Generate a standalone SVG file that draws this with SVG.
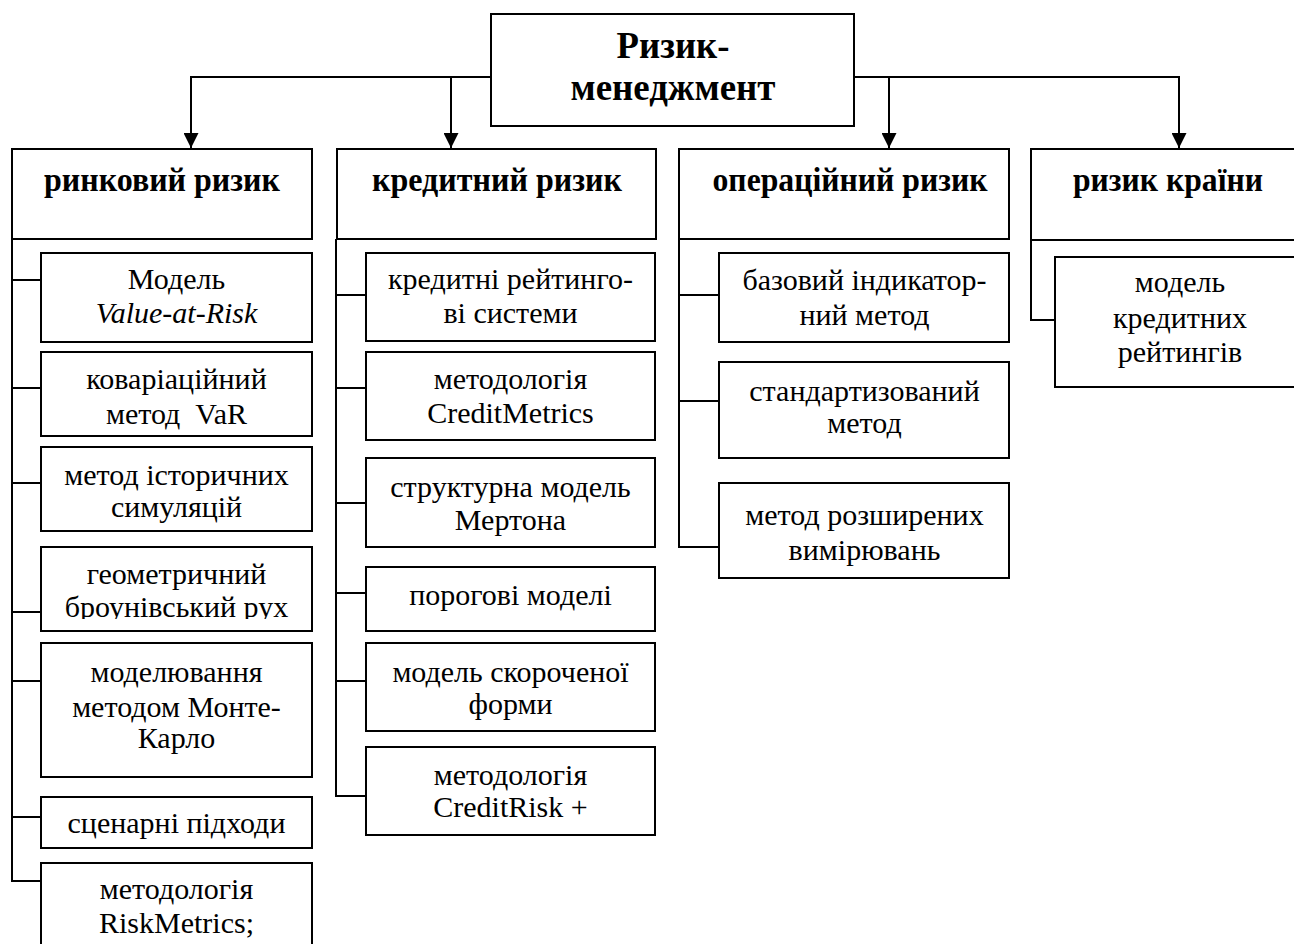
<svg xmlns="http://www.w3.org/2000/svg" width="1294" height="944" viewBox="0 0 1294 944">
<style>
.box{fill:#fff;stroke:#000;stroke-width:2}
.ln{fill:none;stroke:#000;stroke-width:2}
.t{font-family:"Liberation Serif","Times New Roman",serif;font-size:30px;text-anchor:middle;fill:#000}
.h{font-weight:bold;font-size:34px}
.r{font-weight:bold;font-size:37px}
.i{font-style:italic}
</style>
<defs>
<marker id="arr" viewBox="0 0 15 15" refX="15" refY="7.5" markerWidth="15" markerHeight="15" markerUnits="userSpaceOnUse" orient="auto">
<path d="M0,0 L15,7.5 L0,15 z" fill="#000"/>
</marker>
<clipPath id="clipG"><rect x="41" y="547" width="271" height="72"/></clipPath>
</defs>
<rect width="1294" height="944" fill="#fff"/>

<g id="connectors">
<path class="ln" d="M491,77 H191 V148" marker-end="url(#arr)"/>
<path class="ln" d="M451,77 V148" marker-end="url(#arr)"/>
<path class="ln" d="M854,77 H1179 V148" marker-end="url(#arr)"/>
<path class="ln" d="M889,77 V148" marker-end="url(#arr)"/>
<path class="ln" d="M12,239 V881 H41 M12,280 H41 M12,388 H41 M12,483 H41 M12,612 H41 M12,681 H41 M12,817 H41"/>
<path class="ln" d="M336,239 V796 H366 M336,295 H366 M336,388 H366 M336,503 H366 M336,593 H366 M336,681 H366"/>
<path class="ln" d="M679,239 V547 H719 M679,295 H719 M679,401 H719"/>
<path class="ln" d="M1031,240 V320 H1055"/>
</g>

<g id="root">
<rect class="box" x="491" y="14" width="363" height="112"/>
<text class="t r" x="673" y="58" textLength="113" lengthAdjust="spacingAndGlyphs">Ризик-</text>
<text class="t r" x="673" y="100" textLength="205" lengthAdjust="spacingAndGlyphs">менеджмент</text>
</g>

<g id="market">
<rect class="box" x="12" y="149" width="300" height="90"/>
<text class="t h" x="162" y="190.5" textLength="236" lengthAdjust="spacingAndGlyphs">ринковий ризик</text>
</g>
<g id="credit">
<rect class="box" x="337" y="149" width="319" height="90"/>
<text class="t h" x="497" y="190.5" textLength="250" lengthAdjust="spacingAndGlyphs">кредитний ризик</text>
</g>
<g id="operational">
<rect class="box" x="679" y="149" width="330" height="90"/>
<text class="t h" x="850" y="190.5" textLength="275" lengthAdjust="spacingAndGlyphs">операційний ризик</text>
</g>
<g id="country">
<rect class="box" x="1031" y="149" width="275" height="91"/>
<text class="t h" x="1168" y="191" textLength="190" lengthAdjust="spacingAndGlyphs">ризик країни</text>
</g>

<g id="m1">
<rect class="box" x="41" y="253" width="271" height="89"/>
<text class="t" x="176.5" y="289">Модель</text>
<text class="t i" x="176.5" y="323">Value-at-Risk</text>
</g>
<g id="m2">
<rect class="box" x="41" y="352" width="271" height="84"/>
<text class="t" x="176.5" y="389">коваріаційний</text>
<text class="t" x="176.5" y="424" xml:space="preserve">метод  VaR</text>
</g>
<g id="m3">
<rect class="box" x="41" y="447" width="271" height="84"/>
<text class="t" x="176.5" y="485">метод історичних</text>
<text class="t" x="176.5" y="517">симуляцій</text>
</g>
<g id="m4">
<rect class="box" x="41" y="547" width="271" height="84"/>
<g clip-path="url(#clipG)">
<text class="t" x="176.5" y="584">геометричний</text>
<text class="t" x="176.5" y="617">броунівський рух</text>
</g>
</g>
<g id="m5">
<rect class="box" x="41" y="643" width="271" height="134"/>
<text class="t" x="176.5" y="682">моделювання</text>
<text class="t" x="176.5" y="717">методом Монте-</text>
<text class="t" x="176.5" y="748">Карло</text>
</g>
<g id="m6">
<rect class="box" x="41" y="797" width="271" height="51"/>
<text class="t" x="176.5" y="833">сценарні підходи</text>
</g>
<g id="m7">
<rect class="box" x="41" y="863" width="271" height="100"/>
<text class="t" x="176.5" y="899">методологія</text>
<text class="t" x="176.5" y="933">RiskMetrics;</text>
</g>

<g id="c1">
<rect class="box" x="366" y="253" width="289" height="88"/>
<text class="t" x="510.5" y="289">кредитні рейтинго-</text>
<text class="t" x="510.5" y="323">ві системи</text>
</g>
<g id="c2">
<rect class="box" x="366" y="352" width="289" height="88"/>
<text class="t" x="510.5" y="389">методологія</text>
<text class="t" x="510.5" y="423">CreditMetrics</text>
</g>
<g id="c3">
<rect class="box" x="366" y="458" width="289" height="89"/>
<text class="t" x="510.5" y="497">структурна модель</text>
<text class="t" x="510.5" y="530">Мертона</text>
</g>
<g id="c4">
<rect class="box" x="366" y="567" width="289" height="64"/>
<text class="t" x="510.5" y="605">порогові моделі</text>
</g>
<g id="c5">
<rect class="box" x="366" y="643" width="289" height="88"/>
<text class="t" x="510.5" y="682">модель скороченої</text>
<text class="t" x="510.5" y="714">форми</text>
</g>
<g id="c6">
<rect class="box" x="366" y="747" width="289" height="88"/>
<text class="t" x="510.5" y="785">методологія</text>
<text class="t" x="510.5" y="817">CreditRisk +</text>
</g>

<g id="o1">
<rect class="box" x="719" y="253" width="290" height="89"/>
<text class="t" x="864.5" y="290">базовий індикатор-</text>
<text class="t" x="864.5" y="325">ний метод</text>
</g>
<g id="o2">
<rect class="box" x="719" y="362" width="290" height="96"/>
<text class="t" x="864.5" y="401">стандартизований</text>
<text class="t" x="864.5" y="433">метод</text>
</g>
<g id="o3">
<rect class="box" x="719" y="483" width="290" height="95"/>
<text class="t" x="864.5" y="525">метод розширених</text>
<text class="t" x="864.5" y="560">вимірювань</text>
</g>

<g id="k1">
<rect class="box" x="1055" y="257" width="251" height="130"/>
<text class="t" x="1180" y="292">модель</text>
<text class="t" x="1180" y="328">кредитних</text>
<text class="t" x="1180" y="362">рейтингів</text>
</g>
</svg>
